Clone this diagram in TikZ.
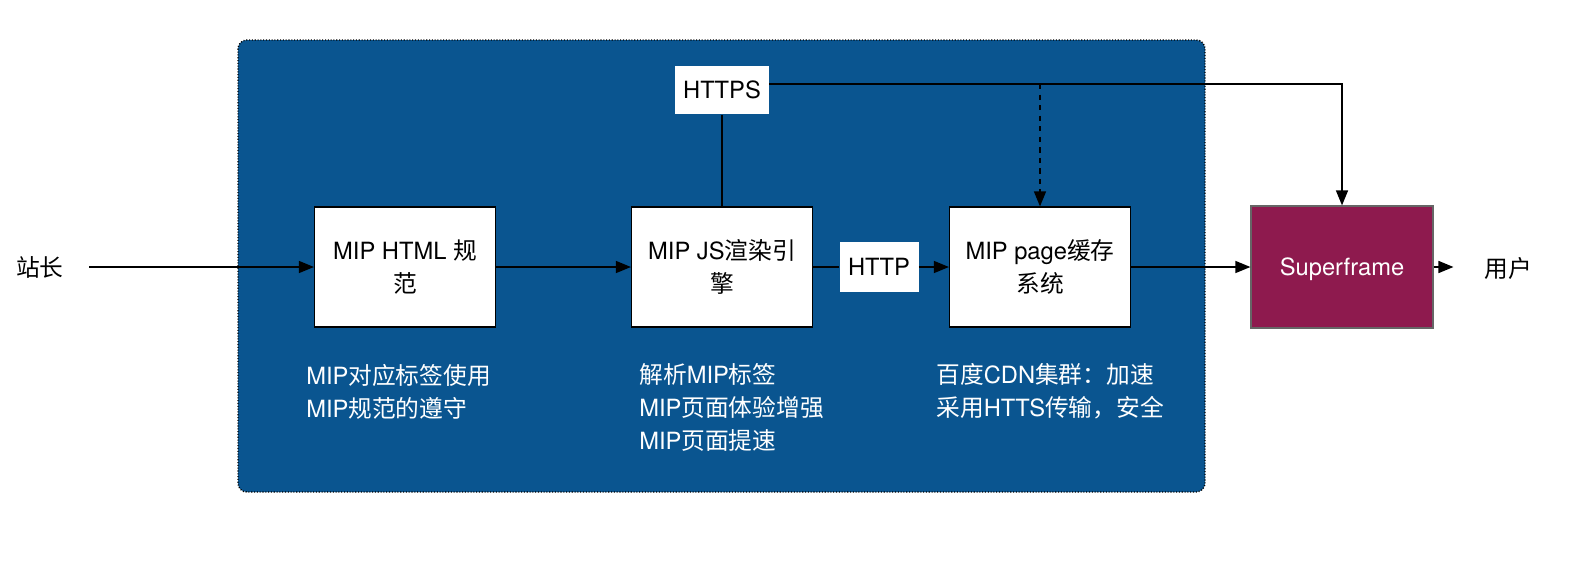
\documentclass[tikz,border=0pt]{standalone}
\usepackage{fontspec}
\setmainfont{TeX Gyre Heros}
\newfontfamily\cjk{Noto Sans CJK SC}
\newcommand{\zh}[1]{{\cjk #1}}
\usetikzlibrary{arrows.meta}
\definecolor{panelblue}{HTML}{0A5590}
\definecolor{framered}{HTML}{8E1A4E}
\tikzset{
  txt/.style={font=\fontsize{13.5}{18.9}\selectfont},
  box/.style={txt, draw=black, line width=0.7pt, fill=white, align=center,
    minimum width=3.62cm, minimum height=2.4cm, inner sep=0pt},
  tag/.style={txt, fill=white, inner sep=0pt},
  note/.style={txt, text=white, align=left, anchor=north west, inner sep=0pt},
  flow/.style={line width=0.8pt, -{Triangle[length=3mm,width=2.4mm]}},
  link/.style={line width=0.8pt}
}
\begin{document}
\begin{tikzpicture}[x=0.02cm,y=-0.02cm]
\useasboundingbox (0,0) rectangle (1576,568);
% background panel
\draw[fill=panelblue, rounded corners=5pt, line width=0.8pt,
  dash pattern=on 0.6pt off 1pt] (238,40) rectangle (1205,492);

% boxes
\node[box] (spec) at (405,267) {MIP HTML \zh{规}\\\zh{范}};
\node[box] (engine) at (722,267) {MIP JS\zh{渲染引}\\\zh{擎}};
\node[box] (cache) at (1040,267) {MIP page\zh{缓存}\\\zh{系统}};
\node[box, fill=framered, draw=black!60, text=white, minimum width=3.64cm,
  minimum height=2.44cm, text depth=0pt] (super) at (1342,267) {Superframe};
\node[tag, minimum width=1.88cm, minimum height=0.98cm] (https) at (722,90) {HTTPS};
\node[tag, minimum width=1.58cm, minimum height=1cm] (http) at (879,267) {HTTP};
\node[txt, text depth=0pt] (zhan) at (40,267) {\zh{站长}};
\node[txt, text depth=0pt] (user) at (1508,267) {\zh{用户}};

% notes
\node[note] (specnote) at (306,364) {MIP\zh{对应标签使用}\\MIP\zh{规范的遵守}};
\node[note] (enginenote) at (639,363) {\zh{解析}MIP\zh{标签}\\MIP\zh{页面体验增强}\\MIP\zh{页面提速}};
\node[note] (cachenote) at (936,363) {\zh{百度}CDN\zh{集群：加速}\\\zh{采用}HTTS\zh{传输，安全}};

% connectors
\coordinate (bend) at (1342,84);
\draw[flow, shorten <=11pt] (zhan) -- (spec);
\draw[flow] (spec) -- (engine);
\draw[link] (engine) -- (http);
\draw[flow] (http) -- (cache);
\draw[flow] (cache) -- (super);
\draw[flow, shorten >=14pt] (super) -- (user);
\draw[link] (https.south) -- (engine.north);
\draw[flow] (https.east |- bend) -| (super.north);
\draw[flow, dashed] (cache.north |- bend) -- (cache.north);
\end{tikzpicture}
\end{document}
